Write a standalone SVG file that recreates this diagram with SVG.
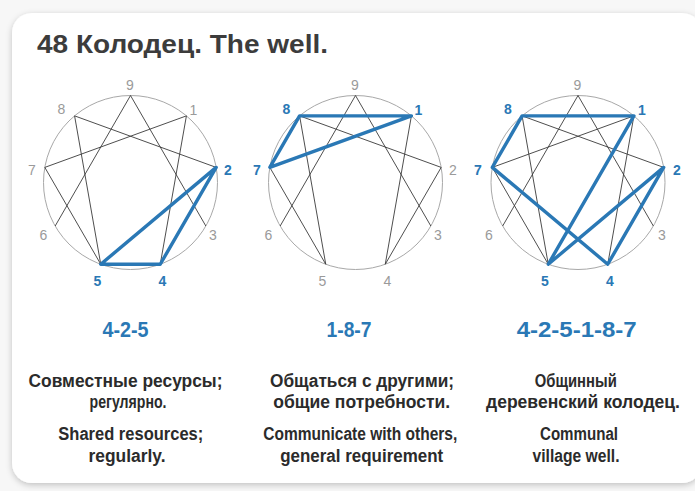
<svg xmlns="http://www.w3.org/2000/svg" xmlns:xlink="http://www.w3.org/1999/xlink" width="695" height="491" viewBox="0 0 695 491">
<style>
.t{font-family:"Liberation Sans",Arial,sans-serif;}
.title{font-size:25px;font-weight:bold;fill:#3c3c3c;}
.num{font-size:14px;fill:#9a9a9a;text-anchor:middle;}
.numb{font-size:14px;font-weight:bold;fill:#2a78b5;text-anchor:middle;}
.seq{font-size:22px;font-weight:bold;fill:#2a78b5;text-anchor:middle;}
.body{font-size:18px;font-weight:bold;fill:#2b2b2b;text-anchor:middle;}
.ring{fill:none;stroke:#a8a8a8;stroke-width:1;}
.gl{fill:none;stroke:#3a3a3a;stroke-width:0.9;}
.bl{fill:none;stroke:#2a78b5;stroke-width:3.4;stroke-linejoin:round;stroke-linecap:round;}
</style>
<defs>
<filter id="sh" x="-5%" y="-5%" width="110%" height="115%">
<feDropShadow dx="0" dy="2" stdDeviation="3" flood-color="#000" flood-opacity="0.22"/>
</filter>
<g id="base">
<circle class="ring" cx="0" cy="0" r="87"/>
<path class="gl" d="M55.92,-66.64 L29.75,81.75 M29.75,81.75 L85.68,-15.10 M85.68,-15.10 L-55.92,-66.64 M-55.92,-66.64 L-29.75,81.75 M-29.75,81.75 L-85.68,-15.10 M-85.68,-15.10 L55.92,-66.64 M0,-87 L75.34,43.5 M0,-87 L-75.34,43.5"/>
</g>
</defs>
<rect width="695" height="491" fill="#f7f7f7"/>
<rect x="12" y="13" width="690" height="470" rx="20" fill="#ffffff" filter="url(#sh)"/>
<text class="t title" x="37" y="53" textLength="291" lengthAdjust="spacingAndGlyphs">48 Колодец. The well.</text>

<g id="panel1" transform="translate(130.5,182.5)">
<use xlink:href="#base"/>
<g id="connectors1"><polygon class="bl" points="29.75,81.75 85.68,-15.10 -29.75,81.75"/></g>
<text class="t num" x="-0.5" y="-92.5">9</text>
<text class="t num" x="63" y="-68">1</text>
<text class="t numb" x="97.5" y="-7.5">2</text>
<text class="t num" x="82.5" y="57">3</text>
<text class="t numb" x="32" y="103">4</text>
<text class="t numb" x="-33" y="103">5</text>
<text class="t num" x="-87" y="57.5">6</text>
<text class="t num" x="-98.5" y="-7.8">7</text>
<text class="t num" x="-69" y="-68.3">8</text>
</g>

<g id="panel2" transform="translate(355.5,182.5)">
<use xlink:href="#base"/>
<g id="connectors2"><polygon class="bl" points="55.92,-66.64 -55.92,-66.64 -85.68,-15.10"/></g>
<text class="t num" x="-0.5" y="-92.5">9</text>
<text class="t numb" x="63" y="-68">1</text>
<text class="t num" x="97.5" y="-7.5">2</text>
<text class="t num" x="82.5" y="57">3</text>
<text class="t num" x="32" y="103">4</text>
<text class="t num" x="-33" y="103">5</text>
<text class="t num" x="-87" y="57.5">6</text>
<text class="t numb" x="-98.5" y="-7.8">7</text>
<text class="t numb" x="-69" y="-68.3">8</text>
</g>

<g id="panel3" transform="translate(578,182.5)">
<use xlink:href="#base"/>
<g id="connectors3"><polygon class="bl" points="29.75,81.75 85.68,-15.10 -29.75,81.75 55.92,-66.64 -55.92,-66.64 -85.68,-15.10"/></g>
<text class="t num" x="-0.5" y="-92.5">9</text>
<text class="t numb" x="64" y="-68">1</text>
<text class="t numb" x="99" y="-7.5">2</text>
<text class="t num" x="84" y="57">3</text>
<text class="t numb" x="32" y="103">4</text>
<text class="t numb" x="-33" y="103">5</text>
<text class="t num" x="-89" y="57.5">6</text>
<text class="t numb" x="-100" y="-7.8">7</text>
<text class="t numb" x="-70" y="-68.3">8</text>
</g>

<g id="caption1">
<text class="t seq" x="125.5" y="337" textLength="46" lengthAdjust="spacingAndGlyphs">4-2-5</text>
<text class="t body" x="125.5" y="387" textLength="194" lengthAdjust="spacingAndGlyphs">Совместные ресурсы;</text>
<text class="t body" x="128" y="408" textLength="77" lengthAdjust="spacingAndGlyphs">регулярно.</text>
<text class="t body" x="130.8" y="440" textLength="145" lengthAdjust="spacingAndGlyphs">Shared resources;</text>
<text class="t body" x="127" y="462" textLength="77" lengthAdjust="spacingAndGlyphs">regularly.</text>
</g>
<g id="caption2">
<text class="t seq" x="349" y="337" textLength="45" lengthAdjust="spacingAndGlyphs">1-8-7</text>
<text class="t body" x="362" y="387" textLength="184" lengthAdjust="spacingAndGlyphs">Общаться с другими;</text>
<text class="t body" x="361.7" y="408" textLength="177" lengthAdjust="spacingAndGlyphs">общие потребности.</text>
<text class="t body" x="360.3" y="440" textLength="194" lengthAdjust="spacingAndGlyphs">Communicate with others,</text>
<text class="t body" x="361.7" y="462" textLength="163" lengthAdjust="spacingAndGlyphs">general requirement</text>
</g>
<g id="caption3">
<text class="t seq" x="576.7" y="337" textLength="120" lengthAdjust="spacingAndGlyphs">4-2-5-1-8-7</text>
<text class="t body" x="575.8" y="387" textLength="82" lengthAdjust="spacingAndGlyphs">Общинный</text>
<text class="t body" x="583" y="408" textLength="194" lengthAdjust="spacingAndGlyphs">деревенский колодец.</text>
<text class="t body" x="579" y="440" textLength="78" lengthAdjust="spacingAndGlyphs">Communal</text>
<text class="t body" x="576" y="462" textLength="87" lengthAdjust="spacingAndGlyphs">village well.</text>
</g>
</svg>
